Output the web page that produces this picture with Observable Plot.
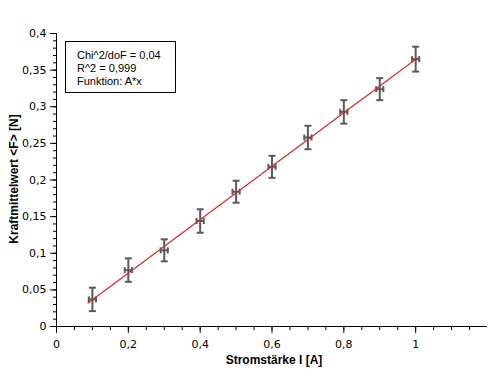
<!DOCTYPE html>
<html>
<head>
<meta charset="utf-8">
<script src="https://cdn.jsdelivr.net/npm/d3@7"></script>
<script src="https://cdn.jsdelivr.net/npm/@observablehq/plot@0.6"></script>
<style>
  html, body { margin: 0; padding: 0; background: #fff; }
  #wrap { position: relative; width: 496px; height: 375px; }
  #legend {
    position: absolute; left: 65px; top: 41px; width: 111px; height: 52px;
    border: 1px solid #000; background: #fff; box-sizing: border-box;
    font-family: "Liberation Sans", Arial, sans-serif; font-size: 11px; line-height: 13px;
    padding: 7px 0 0 11px; color: #000;
  }
</style>
</head>
<body>
<div id="wrap"><div id="legend"></div></div>
<script>
// ---- data ----
const current = [0.1, 0.2, 0.3, 0.4, 0.5, 0.6, 0.7, 0.8, 0.9, 1.0];
const force = [0.037, 0.077, 0.104, 0.144, 0.184, 0.218, 0.258, 0.293, 0.324, 0.365];
const forceErr = [0.016, 0.016, 0.015, 0.016, 0.015, 0.015, 0.016, 0.016, 0.015, 0.017];
const currentErr = [0.01, 0.01, 0.01, 0.01, 0.01, 0.01, 0.01, 0.01, 0.01, 0.01];
const fitX = [0.088, 1.005];
const fitY = [0.032, 0.3665];
const yMajorTicks = [0, 0.05, 0.1, 0.15, 0.2, 0.25, 0.3, 0.35, 0.4];
const xMajorTicks = [0, 0.2, 0.4, 0.6, 0.8, 1];
const xLabel = "Stromstärke I [A]";
const yLabel = "Kraftmittelwert <F> [N]";
const legendLines = ["Chi^2/doF = 0,04", "R^2 = 0,999", "Funktion: A*x"];

const points = current.map((x, i) => ({x, y: force[i], ey: forceErr[i], ex: currentErr[i]}));
const fit = fitX.map((x, i) => ({x, y: fitY[i]}));
const yMinor = d3.range(0, 0.4001, 0.01);
const xMinor = d3.range(0, 1.1501, 0.05);

const fmt = d => String(+d.toFixed(3)).replace(".", ",");
const blank = () => "";
const hLine = {draw(ctx, size) { const r = Math.sqrt(size / Math.PI); ctx.moveTo(-r, 0); ctx.lineTo(r, 0); }};
const vLine = {draw(ctx, size) { const r = Math.sqrt(size / Math.PI); ctx.moveTo(0, -r); ctx.lineTo(0, r); }};
const errColor = "#5a5a5a";
const labelFont = "'Liberation Sans', Arial, sans-serif";

const chart = Plot.plot({
  width: 496, height: 375,
  marginLeft: 56, marginRight: 9, marginTop: 33, marginBottom: 49,
  style: {fontFamily: "'DejaVu Sans', Verdana, sans-serif", fontSize: "11px", color: "#000", background: "#fff"},
  x: {domain: [0, 1.2]},
  y: {domain: [0, 0.4]},
  marks: [
    Plot.axisY(yMinor, {tickSize: 3, tickFormat: blank, label: null, strokeWidth: 1}),
    Plot.axisY(yMajorTicks, {tickSize: 6, tickPadding: 4, tickFormat: fmt, label: null, strokeWidth: 1}),
    Plot.axisX(xMinor, {tickSize: 4, tickFormat: blank, label: null, strokeWidth: 1}),
    Plot.axisX(xMajorTicks, {tickSize: 7, tickPadding: 7, tickFormat: fmt, label: null, strokeWidth: 1}),
    Plot.ruleX([0], {stroke: "#000", strokeWidth: 1}),
    Plot.ruleY([0], {stroke: "#000", strokeWidth: 1}),
    Plot.text([yLabel], {frameAnchor: "left", textAnchor: "middle", lineAnchor: "middle", dx: -42, dy: -1, rotate: -90, fontWeight: "bold", fontSize: 12, fontFamily: labelFont}),
    Plot.text([xLabel], {frameAnchor: "bottom", textAnchor: "middle", lineAnchor: "middle", dx: 2, dy: 34, fontWeight: "bold", fontSize: 12, fontFamily: labelFont}),
    // vertical error bars
    Plot.ruleX(points, {x: "x", y1: d => d.y - d.ey, y2: d => d.y + d.ey, stroke: errColor, strokeWidth: 2}),
    Plot.dot(points, {x: "x", y: d => d.y - d.ey, symbol: hLine, r: 3.5, stroke: errColor, strokeWidth: 2}),
    Plot.dot(points, {x: "x", y: d => d.y + d.ey, symbol: hLine, r: 3.5, stroke: errColor, strokeWidth: 2}),
    // horizontal error bars
    Plot.ruleY(points, {y: "y", x1: d => d.x - d.ex, x2: d => d.x + d.ex, stroke: errColor, strokeWidth: 2}),
    Plot.dot(points, {x: d => d.x - d.ex, y: "y", symbol: vLine, r: 3, stroke: errColor, strokeWidth: 2}),
    Plot.dot(points, {x: d => d.x + d.ex, y: "y", symbol: vLine, r: 3, stroke: errColor, strokeWidth: 2}),
    // fit line
    Plot.line(fit, {x: "x", y: "y", stroke: "#d42a2a", strokeWidth: 1.2})
  ]
});
document.getElementById("wrap").prepend(chart);
document.getElementById("legend").innerHTML = legendLines.map(t => `<div>${t}</div>`).join("");
</script>
</body>
</html>
